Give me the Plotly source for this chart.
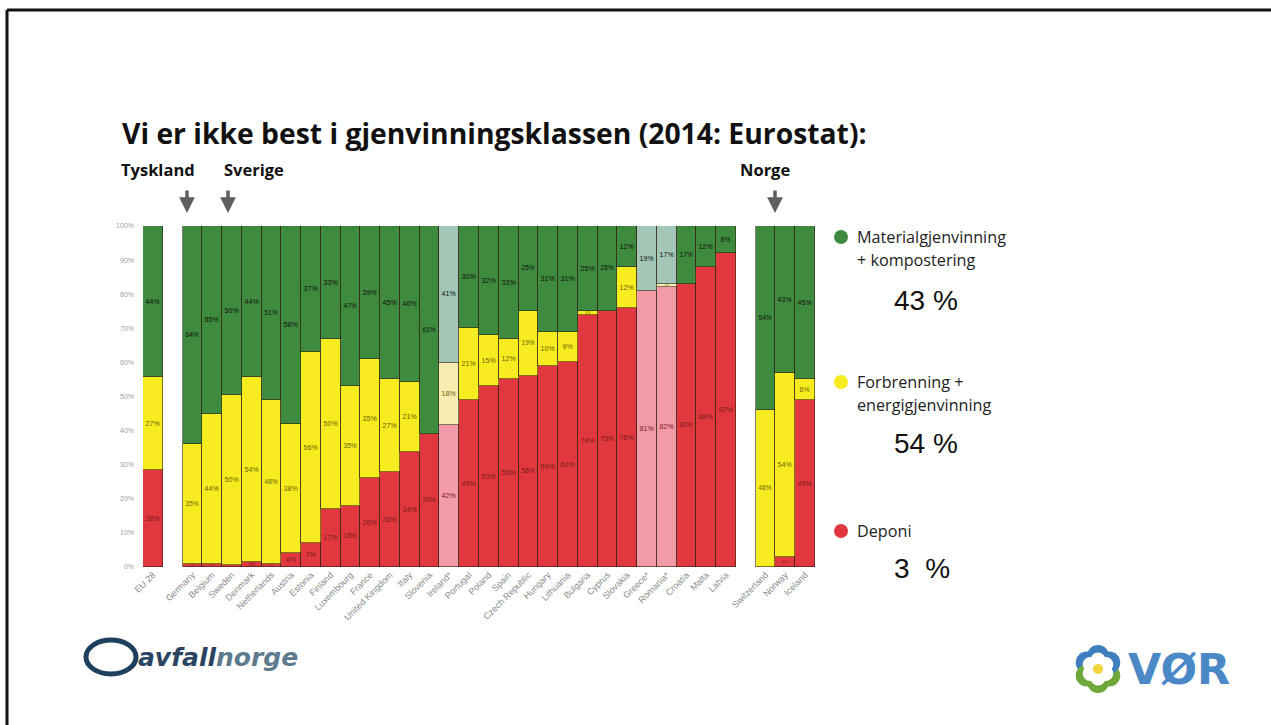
import math
import plotly.graph_objects as go

countries = ["EU 28", "Germany", "Belgium", "Sweden", "Denmark", "Netherlands", "Austria",
             "Estonia", "Finland", "Luxembourg", "France", "United Kingdom", "Italy",
             "Slovenia", "Ireland*", "Portugal", "Poland", "Spain", "Czech Republic",
             "Hungary", "Lithuania", "Bulgaria", "Cyprus", "Slovakia", "Greece*",
             "Romania*", "Croatia", "Malta", "Latvia", "Switzerland", "Norway", "Iceland"]
group_id = [0] + [1] * 28 + [2] * 3
landfill = [28.4, 1, 1, 0.7, 1.4, 1, 4, 7, 17, 18, 26, 28, 33.6, 39, 41.6, 49, 53, 55, 56,
            59, 60, 74, 75, 76, 81, 82, 83, 88, 92, 0, 3, 49]
incineration = [27.2, 35, 44, 49.8, 54.4, 48, 38, 56, 50, 35, 35, 27, 20.8, 0, 18.2, 21, 15,
                12, 19, 10, 9, 1, 0, 12, 0, 1, 0, 0, 0, 46, 54, 6]
recycling = [44.4, 64, 55, 49.6, 44.2, 51, 58, 37, 33, 47, 39, 45, 45.6, 61, 40.6, 30, 32, 33,
             25, 31, 31, 25, 25, 12, 19, 17, 17, 12, 8, 54, 43, 45]
faded = ["Ireland*", "Greece*", "Romania*"]

# positions: leave one empty slot between groups
positions = []
pos = 0
prev = group_id[0]
for g in group_id:
    if g != prev:
        pos += 1
        prev = g
    positions.append(pos)
    pos += 1

W, H = 1271, 725
L, R, T, B = 143, 815, 226, 567


def P(px, py):
    return (px - L) / (R - L), (B - py) / (B - T)


def colors(base, light):
    return [light if c in faded else base for c in countries]


def labels(vals):
    return [f"{round(v)}%" if v >= 0.5 else "" for v in vals]


series = [
    ("Deponi", landfill, "#e1373f", "#f29aa8", "#7a1a20"),
    ("Forbrenning", incineration, "#f6ec1f", "#f7edb0", "#6b6300"),
    ("Materialgjenvinning", recycling, "#3e8a3e", "#a3c6b6", "#111111"),
]

fig = go.Figure()
for name, vals, c, lc, tc in series:
    fig.add_trace(go.Bar(
        x=positions, y=vals, name=name, width=1,
        marker=dict(color=colors(c, lc), line=dict(color="rgba(50,35,20,0.75)", width=0.8)),
        text=labels(vals), textposition="inside", insidetextanchor="middle",
        textangle=0, textfont=dict(size=7, color=tc, family="Liberation Sans"),
        showlegend=False, hoverinfo="skip",
    ))

fig.update_layout(
    barmode="stack", width=W, height=H, autosize=False,
    margin=dict(l=L, r=W - R, t=T, b=H - B),
    paper_bgcolor="white", plot_bgcolor="white",
    font=dict(family="Open Sans"),
    xaxis=dict(tickmode="array", tickvals=positions, ticktext=countries, tickangle=-45,
               range=[-0.5, positions[-1] + 0.5], showgrid=False, zeroline=False,
               tickfont=dict(size=9, color="#8a8a8a", family="Liberation Sans"), ticks=""),
    yaxis=dict(range=[0, 100], tickvals=list(range(0, 101, 10)),
               ticktext=[f"{v}%" for v in range(0, 101, 10)], showgrid=False, zeroline=False,
               tickfont=dict(size=7, color="#a0a0a0", family="Liberation Sans"),
               ticklabelstandoff=8),
    bargap=0,
)

ann = []


def text(px, py, s, size, color="#111", xanchor="left", family="Open Sans", bold=False):
    x, y = P(px, py)
    ann.append(dict(x=x, y=y, xref="paper", yref="paper", text=f"<b>{s}</b>" if bold else s,
                    showarrow=False, xanchor=xanchor, yanchor="middle",
                    font=dict(size=size, color=color, family=family)))


text(120, 133, "Vi er ikke best i gjenvinningsklassen (2014: Eurostat):", 28.3, "#111", bold=True)
text(119, 170, "Tyskland", 16.5, bold=True)
text(222, 170, "Sverige", 16.5, bold=True)
text(738, 170, "Norge", 16.5, bold=True)

for ax_px in [187, 228, 775]:
    x0, y0 = P(ax_px, 213)
    ann.append(dict(x=x0, y=y0, xref="paper", yref="paper", ax=0, ay=-24,
                    showarrow=True, arrowhead=2, arrowsize=0.9, arrowwidth=3.5,
                    arrowcolor="#5f5f5f", text=""))

# legend
leg = [("#3e8a3e", 237, ["Materialgjenvinning", "+ kompostering"], "43 %", 300),
       ("#f6ec1f", 382, ["Forbrenning +", "energigjenvinning"], "54 %", 443),
       ("#e1373f", 531, ["Deponi"], "3  %", 568)]
shapes = []
for col, cy, lines, pct, py in leg:
    x0, y0 = P(834, cy - 7)
    x1, y1 = P(848, cy + 7)
    shapes.append(dict(type="circle", xref="paper", yref="paper", x0=x0, y0=y0, x1=x1, y1=y1,
                       fillcolor=col, line=dict(width=0)))
    for i, ln in enumerate(lines):
        text(855, cy + i * 23, ln, 16.2, "#222")
    text(892, py, pct, 28, "#111", family="Liberation Sans")

# slide border (top and left)
bx0, by0 = P(7, 10)
bx1, by1 = P(1271, 725)
shapes.append(dict(type="line", xref="paper", yref="paper", x0=bx0, y0=by0, x1=bx1, y1=by0,
                   line=dict(color="#111", width=3)))
shapes.append(dict(type="line", xref="paper", yref="paper", x0=bx0, y0=by0, x1=bx0, y1=by1,
                   line=dict(color="#111", width=3)))

# avfallnorge logo
ex0, ey0 = P(86, 640)
ex1, ey1 = P(136, 674)
shapes.append(dict(type="circle", xref="paper", yref="paper", x0=ex0, y0=ey0, x1=ex1, y1=ey1,
                   line=dict(color="#1f3f5e", width=5)))
x, y = P(136, 657)
ann.append(dict(x=x, y=y, xref="paper", yref="paper", showarrow=False, xanchor="left",
                yanchor="middle",
                text="<b><i><span style='color:#2a4462'>avfall</span>"
                     "<span style='color:#5d7b8e'>norge</span></i></b>",
                font=dict(size=25, family="DejaVu Sans")))

# VØR logo (flower)
fcx, fcy = 1098, 669
for k in range(6):
    a = math.pi / 2 + k * math.pi / 3
    px = fcx + 13 * math.cos(a)
    py = fcy - 13 * math.sin(a)
    col = "#3f7fc0" if math.sin(a) > 0 else "#6fa83a"
    x0, y0 = P(px - 11, py - 11)
    x1, y1 = P(px + 11, py + 11)
    shapes.append(dict(type="circle", xref="paper", yref="paper", x0=x0, y0=y0, x1=x1, y1=y1,
                       fillcolor=col, line=dict(width=0)))
for k in range(6):
    a = math.pi / 2 + k * math.pi / 3
    px = fcx + 9 * math.cos(a)
    py = fcy - 9 * math.sin(a)
    x0, y0 = P(px - 7.5, py - 7.5)
    x1, y1 = P(px + 7.5, py + 7.5)
    shapes.append(dict(type="circle", xref="paper", yref="paper", x0=x0, y0=y0, x1=x1, y1=y1,
                       fillcolor="white", line=dict(width=0)))
x0, y0 = P(fcx - 5, fcy - 5)
x1, y1 = P(fcx + 5, fcy + 5)
shapes.append(dict(type="circle", xref="paper", yref="paper", x0=x0, y0=y0, x1=x1, y1=y1,
                   fillcolor="#f1d53a", line=dict(width=0)))
text(1126, 669, "VØR", 43, "#4a88c6", family="DejaVu Sans", bold=True)

fig.update_layout(annotations=ann, shapes=shapes)
fig.write_html("out.html", config={"displayModeBar": False},
               post_script="document.body.style.margin='0';")
